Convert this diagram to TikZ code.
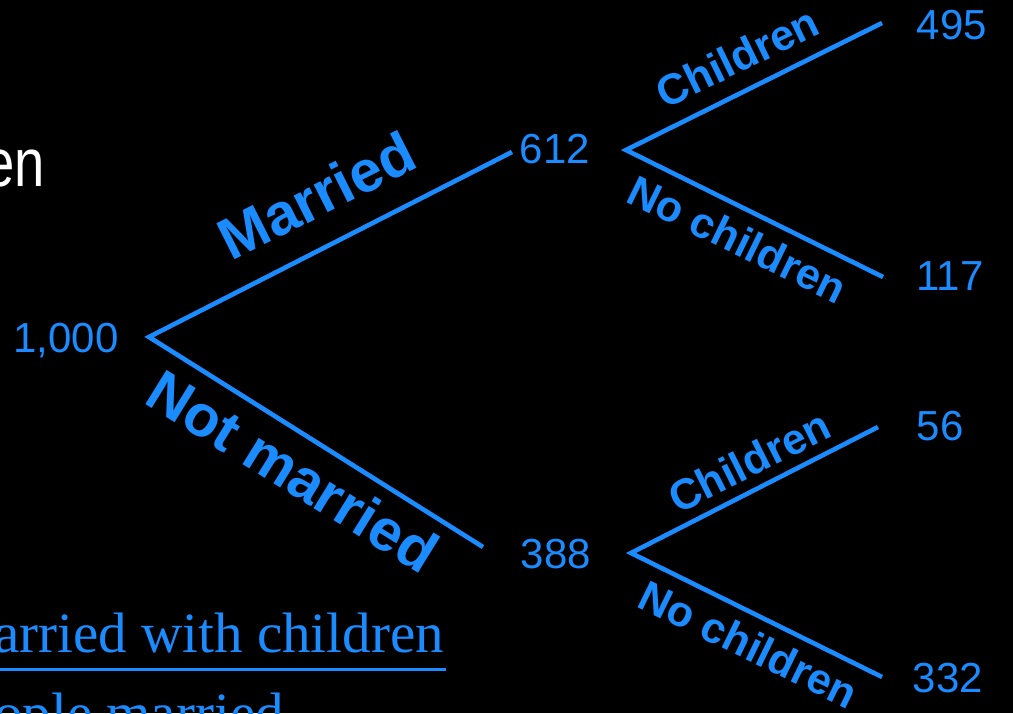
\documentclass[tikz,border=0pt]{standalone}
\usepackage{fontspec}
\setmainfont{Liberation Sans}
\newfontfamily\myserif{Liberation Serif}
\definecolor{tblue}{RGB}{26,140,255}
\begin{document}
\begin{tikzpicture}[x=1pt,y=-1pt,
  branch/.style={draw=tblue, line width=4.6pt, line join=miter},
  num/.style={text=tblue, font=\fontsize{42}{50}\selectfont, inner sep=0pt, anchor=base},
  biglab/.style={text=tblue, font=\bfseries\fontsize{58.5}{68}\selectfont, inner sep=0pt, anchor=base},
  smalllab/.style={text=tblue, font=\bfseries\fontsize{43}{50}\selectfont, inner sep=0pt, anchor=base},
  frac/.style={text=tblue, font=\myserif\fontsize{57}{68}\selectfont, inner sep=0pt, anchor=base east}]
\fill[black] (0,0) rectangle (1013,713);
\useasboundingbox (0,0) rectangle (1013,713);

% white title fragment
\node[text=white, font=\fontsize{68}{80}\selectfont, inner sep=0pt, anchor=base east, xscale=0.8] (title) at (45,186) {en};

% tree vertices
\coordinate (root) at (149,337);
\coordinate (m) at (512,152);
\coordinate (nm) at (483,547);
\coordinate (up) at (626,150);
\coordinate (uc) at (882,23);
\coordinate (un) at (883,277);
\coordinate (lo) at (631,553);
\coordinate (lc) at (878,427);
\coordinate (ln) at (882,677);

% numbers
\node[num] (n1000) at (66,352) {1,000};
\node[num] (n612) at (555,163) {612};
\node[num] (n388) at (556,568) {388};
\node[num] (n495) at (952,39) {495};
\node[num] (n117) at (950,290) {117};
\node[num] (n56) at (940,440) {56};
\node[num] (n332) at (948,692) {332};

% branches
\draw[branch] (m) -- (root) -- (nm);
\draw[branch] (uc) -- (up) -- (un);
\draw[branch] (lc) -- (lo) -- (ln);

% branch labels
\node[biglab, rotate=26.8] (lm) at (326,214) {Married};
\node[biglab, rotate=-31.8] (lnm) at (282,489) {Not married};
\node[smalllab, rotate=26] (luc) at (744,71) {Children};
\node[smalllab, rotate=-26] (lun) at (731,253) {No children};
\node[smalllab, rotate=26.6] (llc) at (756,475) {Children};
\node[smalllab, rotate=-26] (lln) at (742,658) {No children};

% fraction fragment
\node[frac] (frnum) at (444,652) {arried with children};
\coordinate (barL) at (0,669);
\coordinate (barR) at (446,669);
\draw[tblue, line width=3pt] (barL) -- (barR);
\node[frac] (frden) at (284,732) {ople married};
\end{tikzpicture}
\end{document}
